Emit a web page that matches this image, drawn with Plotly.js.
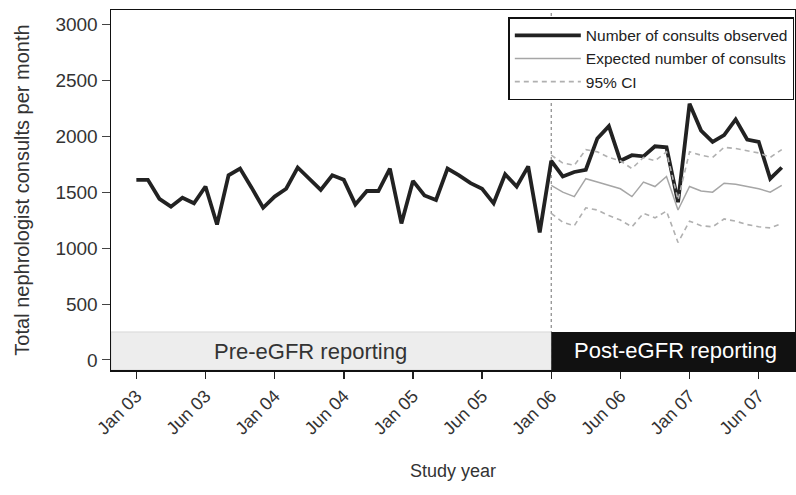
<!DOCTYPE html>
<html>
<head>
<meta charset="utf-8">
<script src="https://cdn.plot.ly/plotly-3.0.1.min.js"></script>
<style>html,body{margin:0;padding:0;background:#fff;}#chart{width:796px;height:495px;}</style>
</head>
<body>
<div id="chart"></div>
<script>
// Month index 0 = Jan 2003
const monthIndex = Array.from({length: 57}, (_, i) => i);
const observed = [1610,1610,1440,1370,1450,1400,1550,1210,1650,1710,
                  1540,1360,1460,1530,1720,1620,1520,1650,1610,1390,
                  1510,1510,1710,1220,1600,1470,1430,1710,1650,1580,
                  1530,1400,1660,1550,1730,1140,1780,1640,1680,1700,
                  1980,2090,1780,1830,1820,1910,1900,1410,2290,2050,
                  1950,2010,2150,1970,1950,1620,1720];
const postIndex = monthIndex.slice(36);
const expected = [1560,1500,1460,1620,1590,1560,1530,1460,1590,1550,
                  1640,1340,1550,1510,1500,1580,1570,1550,1530,1500,1560];
const ciUpper = [1830,1760,1740,1880,1860,1810,1780,1710,1810,1780,
                 1860,1430,1860,1830,1810,1900,1890,1870,1850,1810,1880];
const ciLower = [1310,1230,1200,1360,1340,1290,1250,1190,1310,1270,
                 1330,1050,1240,1200,1190,1260,1240,1210,1190,1180,1220];
const tickVals = [0,6,12,18,24,30,36,42,48,54];
const tickLabels = ["Jan 03","Jun 03","Jan 04","Jun 04","Jan 05","Jun 05","Jan 06","Jun 06","Jan 07","Jun 07"];
const interventionMonth = 36;

const font = "Liberation Sans, Arial, Helvetica, sans-serif";

const traces = [
  {x: monthIndex, y: observed, type: 'scatter', mode: 'lines', name: 'Number of consults observed',
   line: {color: '#222222', width: 3.8}},
  {x: postIndex, y: expected, type: 'scatter', mode: 'lines', name: 'Expected number of consults',
   line: {color: '#a6a6a6', width: 1.5}},
  {x: postIndex, y: ciUpper, type: 'scatter', mode: 'lines', name: '95% CI',
   line: {color: '#b0b0b0', width: 1.6, dash: '5px,4px'}},
  {x: postIndex, y: ciLower, type: 'scatter', mode: 'lines', name: '95% CI', showlegend: false,
   line: {color: '#b0b0b0', width: 1.6, dash: '5px,4px'}}
];

const layout = {
  width: 796, height: 495,
  margin: {l: 111, r: 1, t: 10, b: 125},
  paper_bgcolor: '#fff', plot_bgcolor: '#fff',
  font: {family: font, color: '#333'},
  showlegend: true,
  legend: {x: 0.999, xanchor: 'right', y: 0.98, yanchor: 'top',
    bgcolor: '#fff', bordercolor: '#111', borderwidth: 1.5,
    font: {family: font, size: 15.5, color: '#222'}, itemwidth: 66, tracegroupgap: 0},
  xaxis: {range: [-2.2, 57.15], tickmode: 'array', tickvals: tickVals, ticktext: tickLabels,
    tickangle: -45, ticks: 'outside', ticklen: 7, tickwidth: 1.5, tickcolor: '#222',
    showgrid: false, zeroline: false, showline: true, linecolor: '#111', linewidth: 1.5, mirror: true,
    tickfont: {family: font, size: 18, color: '#333'},
    title: {text: 'Study year', font: {family: font, size: 18, color: '#333'}, standoff: 27}},
  yaxis: {range: [-90, 3128], tickvals: [0,500,1000,1500,2000,2500,3000],
    ticks: 'outside', ticklen: 8, tickwidth: 1, tickcolor: '#444',
    showgrid: false, zeroline: false, showline: true, linecolor: '#111', linewidth: 1.5, mirror: true,
    tickfont: {family: font, size: 19, color: '#333'},
    title: {text: 'Total nephrologist consults per month', font: {family: font, size: 20, color: '#333'}, standoff: 20}},
  shapes: [
    {type: 'rect', xref: 'x', x0: -2.2, x1: interventionMonth, yref: 'y', y0: -90, y1: 250,
     fillcolor: '#ededed', line: {color: '#d8d8d8', width: 1}, layer: 'below'},
    {type: 'rect', xref: 'x', x0: interventionMonth, x1: 57.15, yref: 'y', y0: -90, y1: 250,
     fillcolor: '#111111', line: {width: 0}, layer: 'above'},
    {type: 'line', xref: 'x', x0: interventionMonth, x1: interventionMonth, yref: 'paper', y0: 0, y1: 1,
     line: {color: '#888', width: 1.2, dash: 'dot'}, layer: 'below'}
  ],
  annotations: [
    {xref: 'x', x: 15.1, yref: 'y', y: 75, text: 'Pre-eGFR reporting', showarrow: false,
     font: {family: font, size: 22, color: '#333'}},
    {xref: 'x', x: 46.8, yref: 'y', y: 80, text: 'Post-eGFR reporting', showarrow: false,
     font: {family: font, size: 22, color: '#fff'}}
  ]
};

Plotly.newPlot('chart', traces, layout, {displayModeBar: false, staticPlot: true});
</script>
</body>
</html>
